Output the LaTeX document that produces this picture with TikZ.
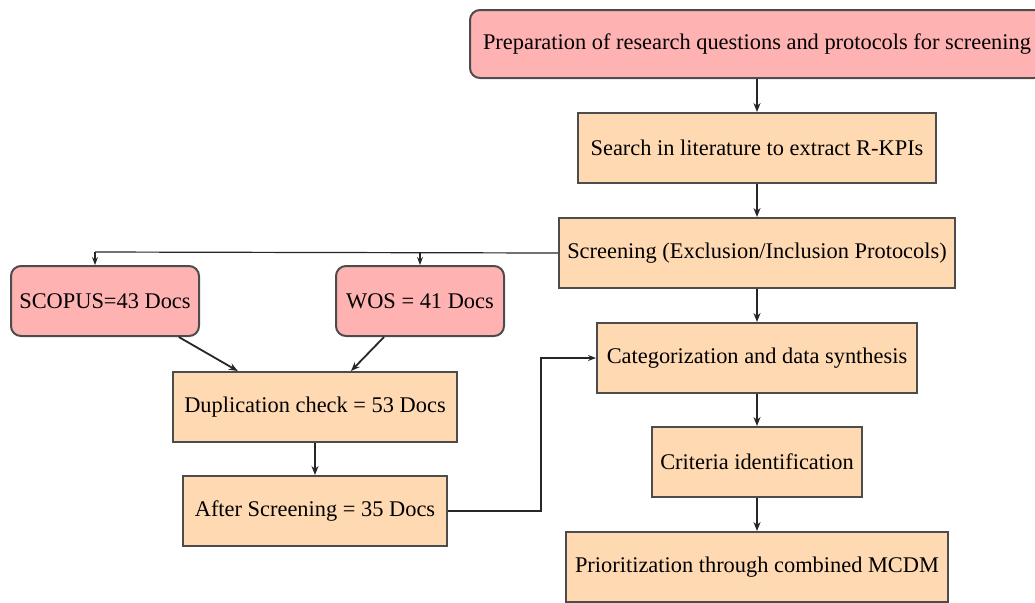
\documentclass[tikz,border=0pt]{standalone}
\usepackage{fontspec}
\setmainfont{Liberation Serif}
\usetikzlibrary{arrows.meta}

\tikzset{
  box/.style={draw=black!70, line width=1pt, fill=orange!30, minimum height=35pt,
    inner sep=2pt, font=\fontsize{11.2}{13}\selectfont},
  srcbox/.style={box, fill=red!30, rounded corners=5pt},
  link/.style={line width=0.9pt, draw=black!85, -{Stealth[length=4.5pt,width=3.5pt]}},
  thinlink/.style={line width=0.6pt, draw=black!85, -{Stealth[length=4pt,width=3pt]}}
}

\begin{document}
\begin{tikzpicture}[x=0.5pt, y=-0.5pt]
\useasboundingbox (0,0) rectangle (1035,602);
\clip (0,0) rectangle (1035,602);

% right column
\node[srcbox, minimum width=287pt, minimum height=34pt] (prep) at (757,44)
  {Preparation of research questions and protocols for screening};
\node[box, minimum width=179pt] (search) at (757,148) {Search in literature to extract R-KPIs};
\node[box, minimum width=198pt] (screen) at (757,253) {Screening (Exclusion/Inclusion Protocols)};
\node[box, minimum width=160pt] (categ) at (757,358) {Categorization and data synthesis};
\node[box, minimum width=105pt] (crit) at (757,462) {Criteria identification};
\node[box, minimum width=191pt] (prior) at (757,567) {Prioritization through combined MCDM};

% left branch
\node[srcbox, minimum width=94pt] (scopus) at (105,301) {SCOPUS=43 Docs};
\node[srcbox, minimum width=84pt] (wos) at (420,301) {WOS = 41 Docs};
\node[box, minimum width=142pt] (dup) at (315,407) {Duplication check = 53 Docs};
\node[box, minimum width=132pt] (after) at (315,511) {After Screening = 35 Docs};

\coordinate (forkL) at (95,252);

\draw[link] (prep) -- (search);
\draw[link] (search) -- (screen);
\draw[link] (screen) -- (categ);
\draw[link] (categ) -- (crit);
\draw[link] (crit) -- (prior);

\draw[line width=0.6pt, draw=black!85] (screen.west) -- (forkL);
\draw[thinlink] (forkL) -- (forkL |- scopus.north);
\draw[thinlink] (forkL -| wos.north) -- (wos.north);

\draw[link] (scopus.-26) -- (dup.155);
\draw[link] (wos.-135) -- (dup.45);
\draw[link] (dup) -- (after);
\draw[thinlink] (after.east) -- ++(93,0) |- (categ.west);
\end{tikzpicture}
\end{document}
